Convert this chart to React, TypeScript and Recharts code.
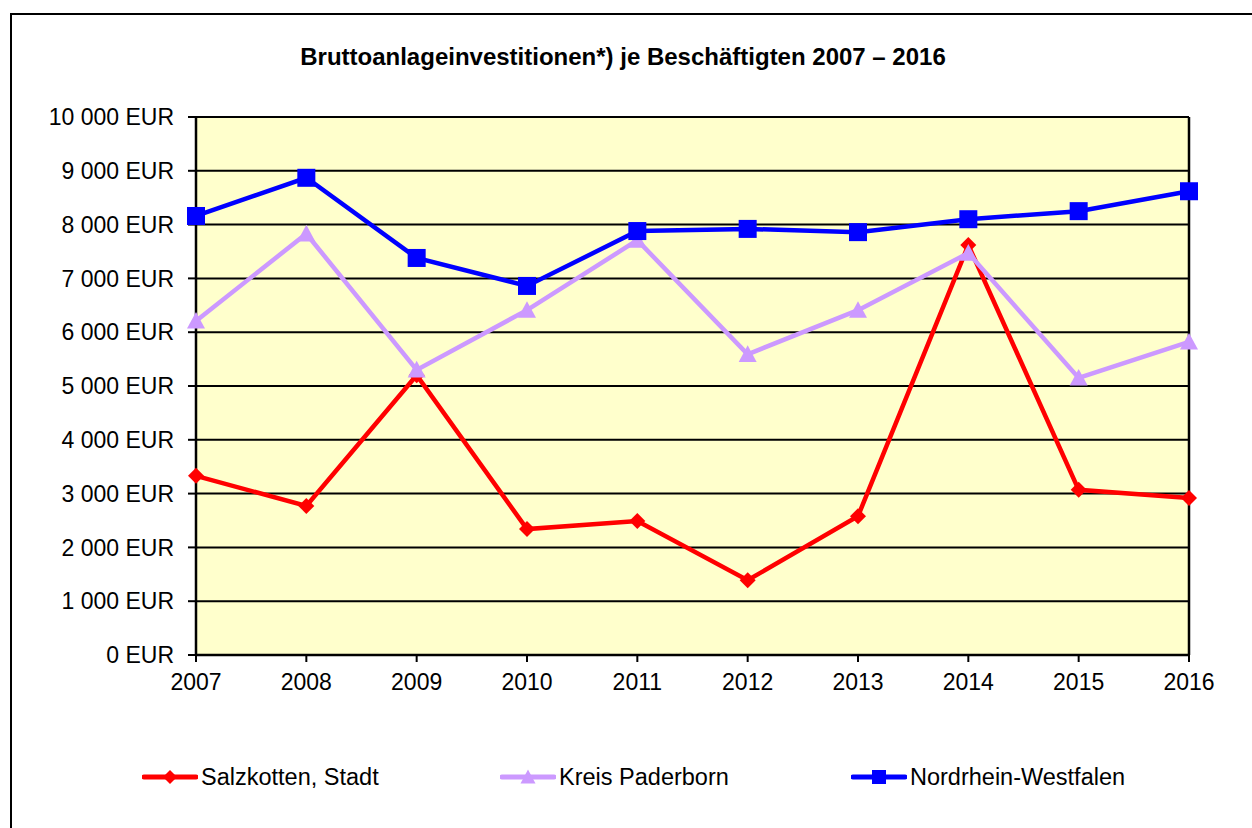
import React from "react";
import {
  CartesianGrid,
  Line,
  LineChart,
  ReferenceLine,
  XAxis,
  YAxis,
} from "recharts";

const years = ["2007", "2008", "2009", "2010", "2011", "2012", "2013", "2014", "2015", "2016"];
const salzkotten = [3330, 2770, 5200, 2340, 2490, 1390, 2580, 7620, 3070, 2920];
const kreisPaderborn = [6210, 7830, 5300, 6410, 7710, 5590, 6410, 7470, 5150, 5820];
const nordrheinWestfalen = [8160, 8870, 7380, 6860, 7880, 7920, 7860, 8100, 8250, 8620];
const yTicks = [0, 1000, 2000, 3000, 4000, 5000, 6000, 7000, 8000, 9000, 10000];

const FONT = "'Liberation Sans', Arial, sans-serif";
const RED = "#ff0000";
const LILAC = "#cc99ff";
const BLUE = "#0000ff";

const data = years.map((year, i) => ({
  year,
  salzkotten: salzkotten[i],
  kreis: kreisPaderborn[i],
  nrw: nordrheinWestfalen[i],
}));

const formatEur = (v: number) =>
  `${String(v).replace(/\B(?=(\d{3})+(?!\d))/g, " ")} EUR`;

const Diamond = ({ cx, cy, color, r = 8 }: any) => (
  <path d={`M${cx},${cy - r} L${cx + r},${cy} L${cx},${cy + r} L${cx - r},${cy} Z`} fill={color} />
);
const Triangle = ({ cx, cy, color, s = 9 }: any) => (
  <path d={`M${cx},${cy - s} L${cx + s},${cy + s * 0.85} L${cx - s},${cy + s * 0.85} Z`} fill={color} />
);
const Square = ({ cx, cy, color, s = 9 }: any) => (
  <rect x={cx - s} y={cy - s} width={s * 2} height={s * 2} fill={color} />
);

const legendItems = [
  { label: "Salzkotten, Stadt", color: RED, shape: "diamond", left: 142 },
  { label: "Kreis Paderborn", color: LILAC, shape: "triangle", left: 500 },
  { label: "Nordrhein-Westfalen", color: BLUE, shape: "square", left: 851 },
];

function LegendRow() {
  return (
    <>
      {legendItems.map((item) => (
        <div
          key={item.label}
          style={{
            position: "absolute",
            left: item.left,
            top: 763,
            height: 28,
            display: "flex",
            alignItems: "center",
            fontFamily: FONT,
            fontSize: 23.5,
            color: "#000",
            whiteSpace: "nowrap",
          }}
        >
          <svg width={56} height={28} style={{ marginRight: 3 }}>
            <line x1={2} y1={14} x2={54} y2={14} stroke={item.color} strokeWidth={5} strokeLinecap="round" />
            {item.shape === "diamond" && <Diamond cx={28} cy={14} color={item.color} r={7} />}
            {item.shape === "triangle" && <Triangle cx={28} cy={14} color={item.color} s={7.5} />}
            {item.shape === "square" && <Square cx={28} cy={14} color={item.color} s={7} />}
          </svg>
          {item.label}
        </div>
      ))}
    </>
  );
}

export default function App() {
  return (
    <div
      style={{
        position: "absolute",
        left: 0,
        top: 0,
        width: 1252,
        height: 828,
        background: "#fff",
        overflow: "hidden",
      }}
    >
      <div
        style={{
          position: "absolute",
          left: 10,
          top: 13,
          width: 1270,
          height: 850,
          border: "2px solid #000",
        }}
      />
      <div
        style={{
          position: "absolute",
          left: 0,
          top: 43,
          width: 1246,
          textAlign: "center",
          fontFamily: FONT,
          fontWeight: "bold",
          fontSize: 24,
          color: "#000",
        }}
      >
        Bruttoanlageinvestitionen*) je Beschäftigten 2007 – 2016
      </div>
      <div style={{ position: "absolute", left: 0, top: 0 }}>
        <LineChart
          width={1252}
          height={828}
          data={data}
          margin={{ top: 117, right: 63, bottom: 0, left: 0 }}
        >
          <CartesianGrid
            vertical={false}
            stroke="#000"
            strokeWidth={2}
            fill="#ffffcc"
            fillOpacity={1}
          />
          <XAxis
            dataKey="year"
            height={173}
            tickSize={7}
            tickMargin={12}
            interval={0}
            axisLine={{ stroke: "#000", strokeWidth: 2.5 }}
            tickLine={{ stroke: "#000", strokeWidth: 2 }}
            tick={{ fill: "#000", fontSize: 23, fontFamily: FONT }}
          />
          <YAxis
            width={196}
            domain={[0, 10000]}
            ticks={yTicks}
            interval={0}
            tickSize={8}
            tickMargin={14}
            tickFormatter={formatEur}
            axisLine={{ stroke: "#000", strokeWidth: 2.5 }}
            tickLine={{ stroke: "#000", strokeWidth: 2 }}
            tick={{ fill: "#000", fontSize: 23, fontFamily: FONT }}
          />
          <ReferenceLine x="2016" stroke="#000" strokeWidth={2.5} />
          <Line
            dataKey="salzkotten"
            stroke={RED}
            strokeWidth={4.5}
            isAnimationActive={false}
            dot={(p: any) => <Diamond key={`d${p.index}`} cx={p.cx} cy={p.cy} color={RED} />}
            activeDot={false}
          />
          <Line
            dataKey="kreis"
            stroke={LILAC}
            strokeWidth={4.5}
            isAnimationActive={false}
            dot={(p: any) => <Triangle key={`t${p.index}`} cx={p.cx} cy={p.cy} color={LILAC} />}
            activeDot={false}
          />
          <Line
            dataKey="nrw"
            stroke={BLUE}
            strokeWidth={4.5}
            isAnimationActive={false}
            dot={(p: any) => <Square key={`s${p.index}`} cx={p.cx} cy={p.cy} color={BLUE} />}
            activeDot={false}
          />
        </LineChart>
      </div>
      <LegendRow />
    </div>
  );
}
